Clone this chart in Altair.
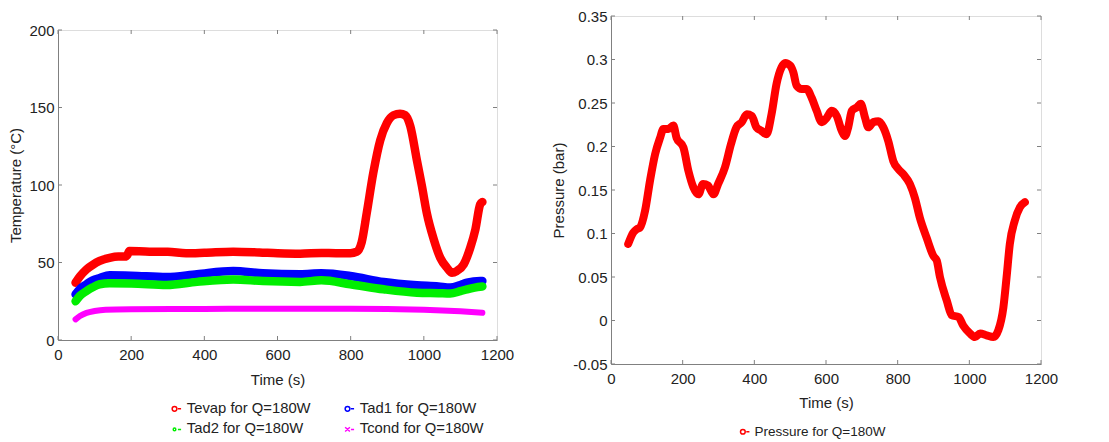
import altair as alt
import pandas as pd

# ---------------- data ----------------
t_evap = [48, 60, 78, 95, 114, 141, 165, 183, 190, 195, 250, 300, 350, 400, 479, 550, 600, 662, 720, 760, 799, 817,
          830, 844, 862, 881, 899, 917, 935, 949, 963, 981, 995, 1008, 1027, 1045, 1063, 1077, 1090, 1109, 1127, 1141, 1154, 1160]
T_evap = [37, 41, 45.6, 48.5, 51, 53, 53.8, 53.8, 55, 57.4, 57, 57, 56, 56.3, 57, 56.5, 56, 55.7, 56.2, 56, 56, 57,
          63, 82, 108, 129, 140, 145, 146, 145, 138, 116, 99, 82, 65, 53, 46.7, 43.4, 44.5, 48.8, 59.6, 71.4, 87.5, 89]

t_ad = [48, 60, 78, 95, 114, 141, 200, 297, 380, 479, 560, 662, 720, 799, 890, 981, 1040, 1072, 1100, 1118, 1154, 1160]
T_ad1 = [29.5, 33, 36, 38.5, 40, 41.7, 41.5, 40.6, 42.5, 44.5, 43, 42.4, 43, 41.3, 37.4, 35.3, 34.5, 33.8, 35.5, 37, 38, 38]
T_ad2 = [25, 28.5, 31.6, 34, 36, 36.6, 36.5, 35.5, 37.5, 39, 38, 37.5, 38.5, 36, 32.7, 30.5, 30.2, 30, 31.5, 32.7, 34.4, 34.5]

t_cond = [48, 60, 78, 100, 130, 200, 400, 600, 800, 1000, 1100, 1160]
T_cond = [13.3, 15.5, 17.5, 18.7, 19.5, 19.8, 20, 20.2, 20.2, 19.5, 18.5, 17.6]

t_p = [48, 62, 72, 81, 95, 109, 123, 137, 146, 160, 174, 183, 202, 216, 230, 244, 257, 271, 286, 299, 318, 335, 350,
       365, 379, 393, 406, 420, 434, 448, 462, 476, 486, 500, 509, 518, 532, 546, 560, 574, 588, 602, 616, 630, 644,
       653, 662, 672, 686, 697, 709, 718, 732, 746, 760, 774, 788, 802, 816, 834, 848, 862, 881, 900, 909, 918, 937,
       951, 970, 983, 1002, 1016, 1030, 1048, 1067, 1081, 1095, 1104, 1113, 1127, 1141, 1155]
P = [0.088, 0.101, 0.105, 0.107, 0.126, 0.161, 0.191, 0.210, 0.220, 0.220, 0.224, 0.210, 0.199, 0.172, 0.153, 0.145,
     0.157, 0.155, 0.145, 0.157, 0.176, 0.203, 0.222, 0.228, 0.237, 0.235, 0.222, 0.218, 0.214, 0.237, 0.272, 0.291,
     0.296, 0.293, 0.285, 0.270, 0.266, 0.266, 0.256, 0.241, 0.228, 0.233, 0.241, 0.235, 0.218, 0.212, 0.222, 0.241,
     0.245, 0.249, 0.233, 0.222, 0.228, 0.229, 0.222, 0.206, 0.183, 0.174, 0.168, 0.157, 0.141, 0.118, 0.095, 0.074,
     0.069, 0.050, 0.023, 0.006, 0.004, -0.006, -0.015, -0.019, -0.015, -0.017, -0.019, -0.011, 0.015, 0.050, 0.088,
     0.115, 0.130, 0.136]

# legend order is column-major (2 columns): Tevap, Tad2 | Tad1, Tcond
series_names = ["Tevap for Q=180W", "Tad2 for Q=180W", "Tad1 for Q=180W", "Tcond for Q=180W"]
series_colors = ["#ff0000", "#00ee00", "#0000ff", "#ff00ff"]
CIRC = "M-1,0A0.45,0.45,0,1,1,-0.1,0A0.45,0.45,0,1,1,-1,0M0.1,0L0.7,0"
DOT = "M-0.8,0A0.25,0.25,0,1,1,-0.3,0A0.25,0.25,0,1,1,-0.8,0M0.1,0L0.7,0"
XSH = "M-1,-0.4L-0.1,0.4M-1,0.4L-0.1,-0.4M0.1,0L0.7,0"
series_shapes = [CIRC, DOT, CIRC, XSH]
p_name = ["Pressure for Q=180W"]

x_ticks = [0, 200, 400, 600, 800, 1000, 1200]
t_ticks = [0, 50, 100, 150, 200]
p_ticks = [-0.05, 0, 0.05, 0.1, 0.15, 0.2, 0.25, 0.3, 0.35]

# ---------------- tables ----------------
rows = []
for name, ts, vs in [("Tevap for Q=180W", t_evap, T_evap), ("Tad1 for Q=180W", t_ad, T_ad1),
                     ("Tad2 for Q=180W", t_ad, T_ad2), ("Tcond for Q=180W", t_cond, T_cond)]:
    for i, (t, v) in enumerate(zip(ts, vs)):
        rows.append({"series": name, "t": t, "v": v, "order": i})
df_T = pd.DataFrame(rows)
df_P = pd.DataFrame({"series": p_name[0], "t": t_p, "v": P, "order": range(len(t_p))})

FONT = "Liberation Sans"
W1, H1 = 439, 310
W2, H2 = 430, 348
TICK = 4
GREY = "#808080"
TXT = "#222222"


def frame_ticks(width, height, X, Y, xvals, yvals):
    xs = pd.DataFrame({"t": xvals})
    ys = pd.DataFrame({"v": yvals})
    bot = alt.Chart(xs).mark_rule(color=GREY, strokeWidth=1).encode(
        x=X, y=alt.value(height), y2=alt.value(height - TICK))
    top = alt.Chart(xs).mark_rule(color=GREY, strokeWidth=1).encode(
        x=X, y=alt.value(0), y2=alt.value(TICK))
    lef = alt.Chart(ys).mark_rule(color=GREY, strokeWidth=1).encode(
        y=Y, x=alt.value(0), x2=alt.value(TICK))
    rig = alt.Chart(ys).mark_rule(color=GREY, strokeWidth=1).encode(
        y=Y, x=alt.value(width), x2=alt.value(width - TICK))
    return [bot, top, lef, rig]


def axis(values, **kw):
    return alt.Axis(values=values, grid=False, tickSize=0, domainColor=GREY, labelFontSize=15, titleFontSize=15,
                    labelFont=FONT, titleFont=FONT, labelColor=TXT, titleColor=TXT, titleFontWeight="normal",
                    labelFlush=False, labelOverlap=False, **kw)


def legend(fs, **kw):
    return alt.Legend(title=None, orient="none", labelFont=FONT, labelFontSize=fs, labelColor=TXT,
                      symbolSize=110, symbolStrokeWidth=1.5, symbolOpacity=1, labelOffset=2, **kw)


# ---------------- left chart ----------------
xs_T = alt.X("t:Q", title="Time (s)", scale=alt.Scale(domain=[0, 1200], nice=False, zero=False),
             axis=axis(x_ticks, labelPadding=7, titlePadding=10, format="d"))
ys_T = alt.Y("v:Q", title="Temperature (°C)", scale=alt.Scale(domain=[0, 200], nice=False, zero=False),
             axis=axis(t_ticks, labelPadding=4, titlePadding=5, format="d"))
leg_T = legend(14.8, columns=2, columnPadding=31, rowPadding=5, legendX=112, legendY=385)
col_T = alt.Color("series:N", scale=alt.Scale(domain=series_names, range=series_colors), legend=leg_T)
shp_T = alt.Shape("series:N", scale=alt.Scale(domain=series_names, range=series_shapes), legend=leg_T)

pts_T = alt.Chart(df_T).mark_point(filled=False, size=12, strokeWidth=1.5, opacity=1).encode(
    x=xs_T, y=ys_T, color=col_T, shape=shp_T)
lines_T = alt.Chart(df_T).mark_line(strokeWidth=8.5, strokeCap="round", strokeJoin="round",
                                    interpolate="monotone").encode(
    x=xs_T, y=ys_T, color=col_T, order="order:Q", detail="series:N"
).transform_filter(alt.datum.series != "Tcond for Q=180W")
cond_T = alt.Chart(df_T).mark_line(strokeWidth=6, strokeCap="round", strokeJoin="round",
                                   interpolate="monotone").encode(
    x=xs_T, y=ys_T, color=col_T, order="order:Q", detail="series:N"
).transform_filter(alt.datum.series == "Tcond for Q=180W")

left = alt.layer(pts_T, cond_T, lines_T, *frame_ticks(W1, H1, xs_T, ys_T, x_ticks, t_ticks)).properties(
    width=W1, height=H1)

spacer = alt.Chart(pd.DataFrame({"a": [0]})).mark_point(opacity=0).encode(
    x=alt.X("a:Q", axis=None), y=alt.Y("a:Q", axis=None)).properties(
    width=W1, height=6, view=alt.ViewBackground(strokeOpacity=0))

left_col = alt.vconcat(spacer, left, spacing=0)

# ---------------- right chart ----------------
xs_P = alt.X("t:Q", title="Time (s)", scale=alt.Scale(domain=[0, 1200], nice=False, zero=False),
             axis=axis(x_ticks, labelPadding=7, titlePadding=9, format="d"))
ys_P = alt.Y("v:Q", title="Pressure (bar)", scale=alt.Scale(domain=[-0.05, 0.35], nice=False, zero=False),
             axis=axis(p_ticks, labelPadding=4, titlePadding=6, labelExpr="'' + datum.value"))
col_P = alt.Color("series:N", scale=alt.Scale(domain=p_name, range=["#ff0000"]),
                  legend=legend(13.5, legendX=128, legendY=409))
shp_P = alt.Shape("series:N", scale=alt.Scale(domain=p_name, range=[CIRC]),
                  legend=legend(13.5, legendX=128, legendY=409))

pts_P = alt.Chart(df_P).mark_point(filled=False, size=12, strokeWidth=1.5, opacity=1).encode(
    x=xs_P, y=ys_P, color=col_P, shape=shp_P)
lines_P = alt.Chart(df_P).mark_line(strokeWidth=8, strokeCap="round", strokeJoin="round", interpolate="monotone").encode(
    x=xs_P, y=ys_P, order="order:Q", color=col_P)

right = alt.layer(pts_P, lines_P, *frame_ticks(W2, H2, xs_P, ys_P, x_ticks, p_ticks)).properties(
    width=W2, height=H2)

chart = alt.hconcat(left_col, right, spacing=36).resolve_scale(
    color="independent", shape="independent", x="independent", y="independent"
).resolve_legend(color="independent", shape="independent").properties(
    padding={"left": 0, "top": 0, "right": 0, "bottom": 0}
).configure_view(stroke=GREY, strokeWidth=1).configure(background="white")

chart.save("out.html", embed_options={"renderer": "svg", "actions": False})
